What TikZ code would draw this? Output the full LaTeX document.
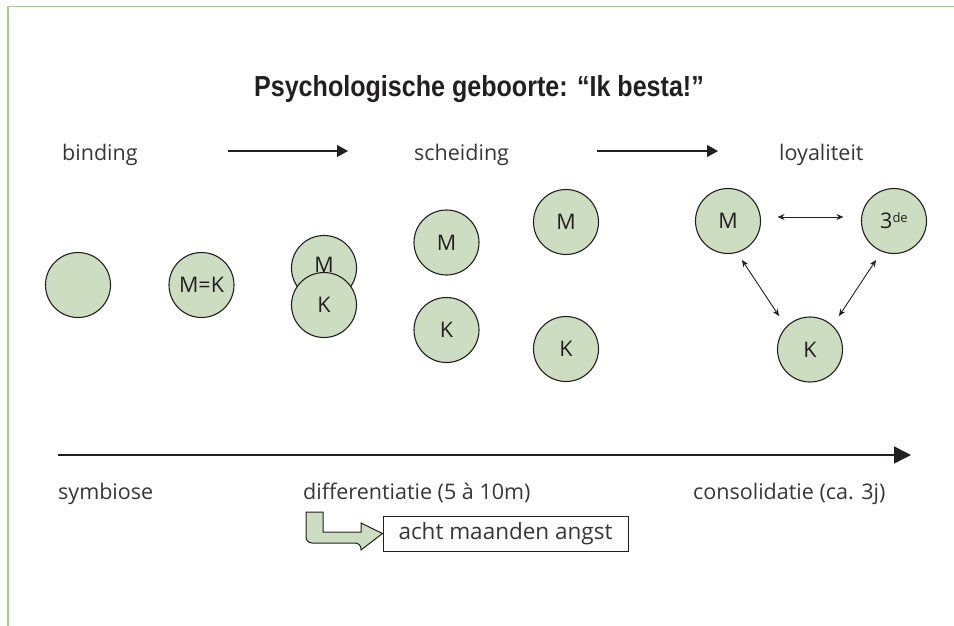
\documentclass[tikz,border=0pt]{standalone}
\usepackage{fontspec}
\setmainfont{Open Sans}
\newfontfamily\titlefont{Liberation Sans}
\usetikzlibrary{arrows.meta}
\definecolor{framegreen}{RGB}{160,204,140}
\definecolor{circfill}{RGB}{205,221,193}
\definecolor{ink}{RGB}{35,31,32}
\begin{document}
\begin{tikzpicture}[x=1pt,y=-1pt,
  blob/.style={circle,draw=ink,line width=1.1pt,fill=circfill,minimum size=65pt,inner sep=0pt,font=\fontsize{21.5}{21.5}\selectfont,text=ink},
  lbl/.style={anchor=base west,inner sep=0pt,font=\fontsize{21.5}{21.5}\selectfont,text=ink!90},
  topar/.style={-{Triangle[length=11pt,width=12pt]},line width=1.1pt,draw=ink},
  dbl/.style={{Stealth[length=7pt,width=6pt]}-{Stealth[length=7pt,width=6pt]},line width=0.9pt,draw=ink},
  notebox/.style={draw=ink,line width=1pt,minimum width=245pt,minimum height=35pt,inner sep=0pt,font=\fontsize{22.5}{22.5}\selectfont,text=ink!90}]
\useasboundingbox (0,0) rectangle (954,626);
% frame
\draw[framegreen,line width=1.6pt] (8,626) -- (8,6.5) -- (954,6.5);
% title
\node[font=\titlefont\bfseries\fontsize{29}{29}\selectfont,inner sep=0pt,text=ink] (title) at (479,89) {\scalebox{0.865}[1]{Psychologische geboorte: “Ik besta!”}};
% top labels
\node[lbl] (binding) at (62,160) {binding};
\node[lbl] (scheiding) at (414,160) {scheiding};
\node[lbl] (loyal) at (779,160) {loyaliteit};
\coordinate (a1s) at (228,151); \coordinate (a1e) at (348,151);
\coordinate (a2s) at (597,151); \coordinate (a2e) at (718,151);
\draw[topar] (a1s) -- (a1e);
\draw[topar] (a2s) -- (a2e);
% circles
\node[blob] (c0) at (78,285) {};
\node[blob] (mk) at (201.5,285) {M=K};
\node[blob] (m1) at (324,268) {\raisebox{7pt}{M}};
\node[blob] (k1) at (324,305) {K};
\node[blob] (m2) at (446.5,242.5) {M};
\node[blob] (k2) at (446.5,330) {K};
\node[blob] (m3) at (566,222) {M};
\node[blob] (k3) at (566,349) {K};
\node[blob] (m4) at (728,221) {M};
\node[blob] (d4) at (894,221) {3\raisebox{0.55ex}{\fontsize{13}{13}\selectfont de}};
\node[blob] (k4) at (810,349.5) {K};
\draw[dbl] ([shift={(16.5,-4)}]m4.east) -- ([shift={(-17.5,-4)}]d4.west);
\draw[dbl] ([shift={(14,39)}]m4.center) -- ([shift={(-31,-33.5)}]k4.center);
\draw[dbl] ([shift={(-18,39)}]d4.center) -- ([shift={(29,-33.5)}]k4.center);
% axis
\coordinate (ax0) at (58,455); \coordinate (ax1) at (911,455);
\draw[-{Triangle[length=17pt,width=17pt]},line width=1.4pt,draw=ink] (ax0) -- (ax1);
\node[lbl] (symb) at (58,499) {symbiose};
\node[lbl] (diff) at (303,499) {differentiatie (5 à 10m)};
\node[lbl] (cons) at (693,499) {consolidatie (ca. 3j)};
% note box
\node[notebox] (note) at (505.5,533.5) {acht maanden angst};
% bent arrow
\draw[ink,line width=1pt,fill=circfill,rounded corners=6pt]
  (306,512) -- (306,543) -- (361,543) [sharp corners] -- (361,550) -- (note.west) -- (361,523) -- (361,532) -- (323,532) -- (323,512) -- cycle;
\end{tikzpicture}
\end{document}
